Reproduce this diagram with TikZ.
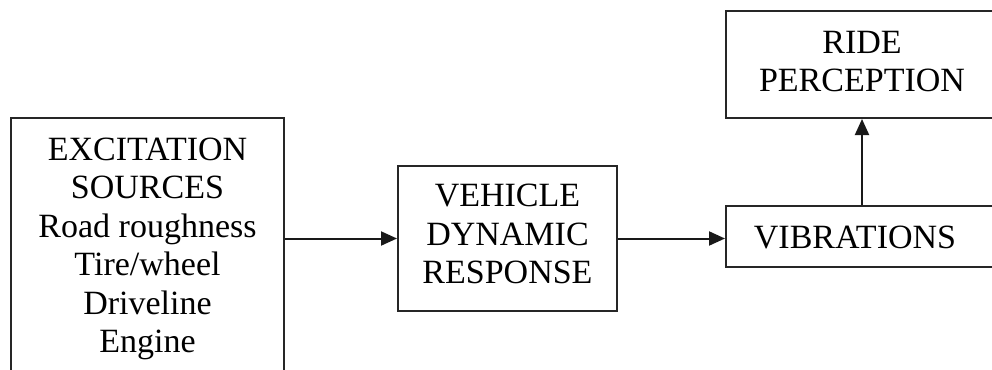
\documentclass[tikz,border=0pt]{standalone}
\usepackage{fontspec}
\setmainfont{Liberation Serif}
\usetikzlibrary{arrows.meta}
\tikzset{
  blk/.style={draw=black!85, line width=2pt, rectangle, inner sep=0pt},
  lbl/.style={align=center, inner sep=0pt, font=\fontsize{34}{38.5}\selectfont},
  conn/.style={draw=black!90, line width=2pt, -{Triangle[length=16pt,width=14pt]}}
}
\begin{document}
\begin{tikzpicture}[x=1pt,y=-1pt]
\useasboundingbox (0,0) rectangle (992,369);
\clip (0,0) rectangle (992,369);
\fill[white] (0,0) rectangle (992,369);
% boxes
\node[blk, minimum width=273pt, minimum height=262pt] (exc) at (147.5,249) {};
\node[blk, minimum width=219pt, minimum height=145pt] (veh) at (507.5,238.5) {};
\node[blk, minimum width=272pt, minimum height=61pt] (vib) at (862,236.5) {};
\node[blk, minimum width=272pt, minimum height=107pt] (ride) at (862,64.5) {};
% texts
\node[lbl] (exctext) at (147.5,248.7) {EXCITATION\\SOURCES\\Road roughness\\Tire/wheel\\Driveline\\Engine};
\node[lbl] (vehtext) at (507.5,234) {VEHICLE\\DYNAMIC\\RESPONSE};
\node[lbl] (vibtext) at (855,237) {VIBRATIONS};
\node[lbl] (ridetext) at (862,61.5) {RIDE\\PERCEPTION};
% connectors
\draw[conn] (veh.west -| exc.east) -- (veh.west);
\draw[conn] (veh.east) -- (vib.west |- veh.east);
\draw[conn] (vib.north) -- (ride.south);
\end{tikzpicture}
\end{document}
